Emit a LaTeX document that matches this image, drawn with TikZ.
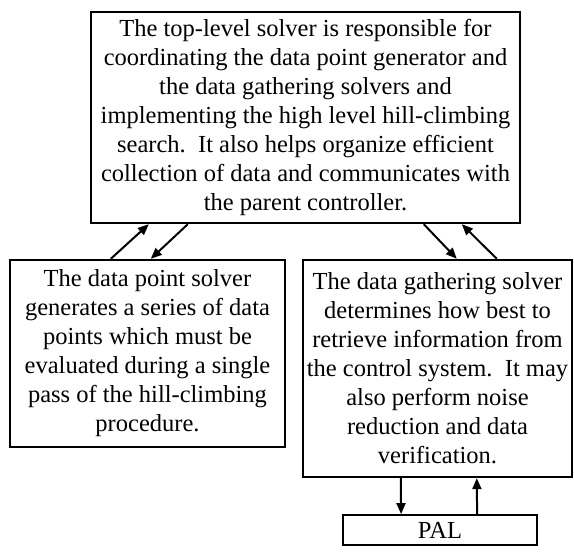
\documentclass[tikz,border=0pt]{standalone}
\usepackage{fontspec}
\setmainfont{Liberation Serif}
\usetikzlibrary{arrows.meta}

\tikzset{
  solverbox/.style={draw=black, line width=2.4pt, align=center, inner sep=0pt,
    font=\fontsize{24.5}{29}\selectfont},
  flow/.style={draw=black, line width=2pt,
    -{Triangle[length=11pt,width=9pt]}},
}

\begin{document}
\begin{tikzpicture}[x=1pt,y=1pt]
  \useasboundingbox (0,0) rectangle (574,-555);

  % solver hierarchy
  \node[solverbox, minimum width=429pt, minimum height=211pt] (top) at (305.5,-117.5)
    {The top-level solver is responsible for\\
     coordinating the data point generator and\\
     the data gathering solvers and\\
     implementing the high level hill-climbing\\
     search.\ \ It also helps organize efficient\\
     collection of data and communicates with\\
     the parent controller.};

  \node[solverbox, minimum width=275pt, minimum height=187pt] (point) at (147.5,-353.5)
    {The data point solver\\
     generates a series of data\\
     points which must be\\
     evaluated during a single\\
     pass of the hill-climbing\\
     procedure.};

  \node[solverbox, minimum width=269pt, minimum height=217pt] (gather) at (437.5,-368.5)
    {The data gathering solver\\
     determines how best to\\
     retrieve information from\\
     the control system.\ \ It may\\
     also perform noise\\
     reduction and data\\
     verification.};

  \node[solverbox, line width=1.8pt, minimum width=194pt, minimum height=30pt] (pal) at (440,-530)
    {PAL};

  % links between the solvers
  \draw[flow] ([xshift=102pt]point.north west) -- ([xshift=59pt]top.south west);
  \draw[flow] ([xshift=98pt]top.south west) -- ([xshift=142pt]point.north west);
  \draw[flow] ([xshift=334pt]top.south west) -- ([xshift=155pt]gather.north west);
  \draw[flow] ([xshift=195pt]gather.north west) -- ([xshift=372pt]top.south west);

  % links to PAL
  \draw[flow] ([xshift=99pt]gather.south west) -- ([xshift=59pt]pal.north west);
  \draw[flow] ([xshift=135pt]pal.north west) -- ([xshift=175pt]gather.south west);
\end{tikzpicture}
\end{document}
